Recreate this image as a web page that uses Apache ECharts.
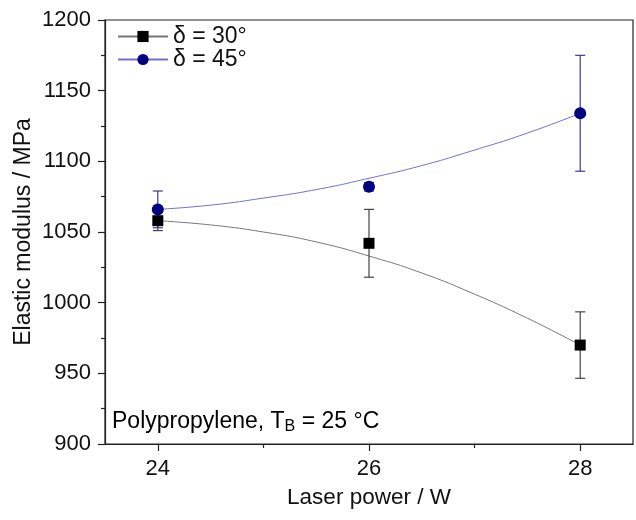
<!DOCTYPE html>
<html>
<head>
<meta charset="utf-8">
<script src="https://cdn.jsdelivr.net/npm/echarts@6/dist/echarts.min.js"></script>
<style>html,body{margin:0;padding:0;background:#fff}#c{width:636px;height:520px}</style>
</head>
<body>
<div id="c"></div>
<script>
// Data
const power = [24, 26, 28];
const mod30 = [1058, 1042, 970];
const err30 = [7, 24, 23.5];
const mod45 = [1066, 1082, 1134];
const err45 = [13, 3, 41];
// fitted curves
const fitX = [24, 24.5, 25, 25.5, 26, 26.5, 27, 27.5, 28];
const fit30 = [1058, 1055, 1050, 1043, 1033, 1021, 1006, 989, 970];
const fit45 = [1066, 1069, 1074, 1080, 1088, 1097, 1108, 1120, 1134];
const xMajor = [24, 26, 28];
const xMinor = [25, 27];
const name30 = 'δ = 30°';
const name45 = 'δ = 45°';
const annotation = 'Polypropylene, T';

const FONT = 'Liberation Sans, Arial, sans-serif';
const chart = echarts.init(document.getElementById('c'));

function errSeries(vals, errs, color) {
  return {
    type: 'custom',
    silent: true,
    z: 3,
    data: power.map((x, i) => [x, vals[i] - errs[i], vals[i] + errs[i]]),
    renderItem: function (params, api) {
      const lo = api.coord([api.value(0), api.value(1)]);
      const hi = api.coord([api.value(0), api.value(2)]);
      const w = 5;
      const st = { stroke: color, lineWidth: 1.2 };
      return {
        type: 'group',
        children: [
          { type: 'line', shape: { x1: lo[0], y1: lo[1], x2: hi[0], y2: hi[1] }, style: st },
          { type: 'line', shape: { x1: lo[0] - w, y1: lo[1], x2: lo[0] + w, y2: lo[1] }, style: st },
          { type: 'line', shape: { x1: hi[0] - w, y1: hi[1], x2: hi[0] + w, y2: hi[1] }, style: st }
        ]
      };
    }
  };
}

const axisLineStyle = { color: '#222', width: 1.2 };

chart.setOption({
  animation: false,
  grid: { left: 105, right: 3, top: 20, bottom: 76, show: true, borderColor: '#222', borderWidth: 1.2, backgroundColor: 'transparent' },
  legend: {
    left: 112, top: 20, orient: 'vertical', itemGap: 0,
    itemWidth: 50, itemHeight: 14,
    textStyle: { fontFamily: FONT, fontSize: 23, color: '#111' },
    data: [name30, name45]
  },
  xAxis: [{
    type: 'value', min: 23.5, max: 28.5,
    name: 'Laser power / W', nameLocation: 'middle', nameGap: 42,
    nameTextStyle: { fontFamily: FONT, fontSize: 22.5, color: '#111' },
    axisLine: { show: true, lineStyle: axisLineStyle },
    axisTick: { show: true, length: 7, customValues: xMajor, lineStyle: axisLineStyle },
    axisLabel: { customValues: xMajor, fontFamily: FONT, fontSize: 22, color: '#111', margin: 14 },
    splitLine: { show: false }
  }, {
    type: 'value', min: 23.5, max: 28.5, position: 'bottom',
    axisLine: { show: false },
    axisTick: { show: true, length: 4, customValues: xMinor, lineStyle: axisLineStyle },
    axisLabel: { show: false },
    splitLine: { show: false }
  }],
  yAxis: {
    type: 'value', min: 900, max: 1200, interval: 50,
    name: 'Elastic modulus / MPa', nameLocation: 'middle', nameGap: 70, nameMoveOverlap: false,
    nameTextStyle: { fontFamily: FONT, fontSize: 23, color: '#111' },
    axisLine: { show: true, lineStyle: axisLineStyle },
    axisTick: { show: true, length: 7, lineStyle: axisLineStyle },
    minorTick: { show: true, splitNumber: 2, length: 4, lineStyle: axisLineStyle },
    axisLabel: { fontFamily: FONT, fontSize: 22, color: '#111', margin: 14, formatter: v => String(v) },
    splitLine: { show: false }
  },
  series: [
    {
      name: name30, type: 'line', smooth: true, symbol: 'rect', symbolSize: 10, showSymbol: false,
      data: fitX.map((x, i) => [x, fit30[i]]),
      itemStyle: { color: '#000' }, lineStyle: { color: '#777', width: 1 }, z: 2
    },
    {
      name: name45, type: 'line', smooth: true, symbol: 'circle', symbolSize: 11, showSymbol: false,
      data: fitX.map((x, i) => [x, fit45[i]]),
      itemStyle: { color: '#000080' }, lineStyle: { color: '#7070c8', width: 1 }, z: 2
    },
    errSeries(mod30, err30, '#444'),
    errSeries(mod45, err45, '#3a3aa0'),
    {
      name: name30, type: 'scatter', symbol: 'rect', symbolSize: 11, z: 4,
      data: power.map((x, i) => [x, mod30[i]]), itemStyle: { color: '#000', opacity: 1 }
    },
    {
      name: name45, type: 'scatter', symbol: 'circle', symbolSize: 12, z: 4,
      data: power.map((x, i) => [x, mod45[i]]), itemStyle: { color: '#000080', opacity: 1 }
    }
  ],
  graphic: [{
    type: 'text', left: 112, top: 410,
    style: {
      text: '{a|' + annotation + '}{s|B}{a| = 25 °C}',
      rich: {
        a: { fontFamily: FONT, fontSize: 23, color: '#111' },
        s: { fontFamily: FONT, fontSize: 16, color: '#111', verticalAlign: 'bottom', padding: [11, 0, 0, 0] }
      }
    }
  }]
});
</script>
</body>
</html>
